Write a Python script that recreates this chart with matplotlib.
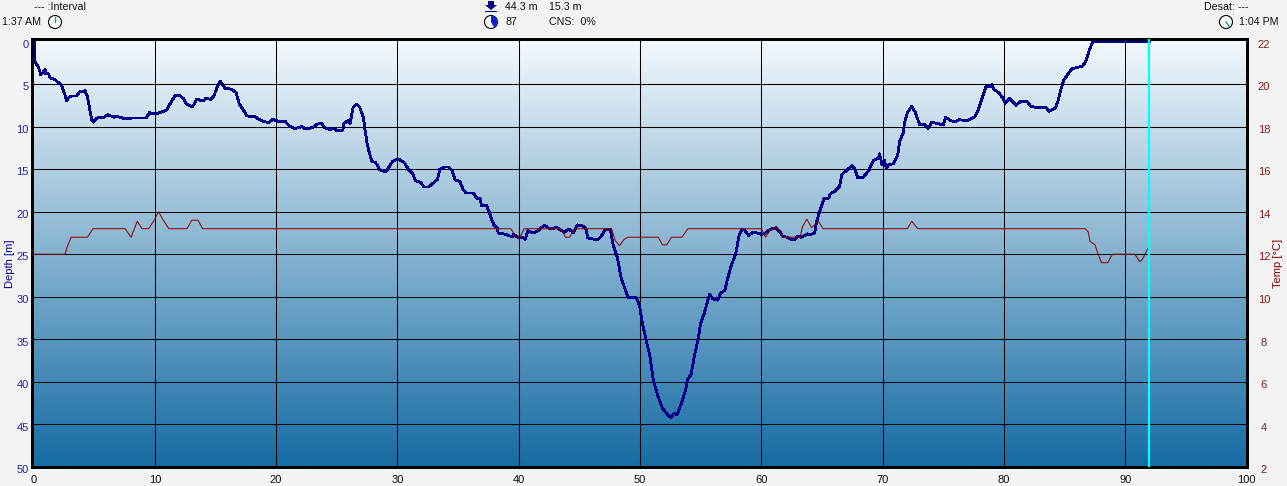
import matplotlib
matplotlib.use("Agg")
import matplotlib.pyplot as plt
import numpy as np
from matplotlib.colors import LinearSegmentedColormap
from matplotlib.patches import Circle, Wedge, Polygon, Rectangle
from matplotlib.transforms import ScaledTranslation

plt.rcParams['font.family'] = ['Liberation Sans', 'DejaVu Sans']

depth_time = [0.05, 0.12, 0.4, 0.6, 0.75, 0.95, 1.0, 1.25, 1.35, 1.77, 2.3, 2.6, 2.75, 2.9, 3.15, 3.55, 3.8, 4.25, 4.45, 4.6, 4.8, 4.95,
              5.2, 5.8, 6.15, 6.6, 6.85, 7.45, 8.2, 9.3, 9.55, 9.75, 10.15, 10.7, 11.0, 11.25, 11.65, 12.0, 12.35, 12.6, 13.1, 13.45,
              14.0, 14.2, 14.6, 14.85, 15.1, 15.4, 15.8, 16.3, 16.7, 16.95, 17.3, 17.6, 18.25, 18.8, 19.35, 19.75, 20.2, 20.75, 21.15,
              21.55, 22.1, 22.45, 23.05, 23.4, 23.75, 24.0, 24.45, 24.7, 25.05, 25.5, 25.6, 25.95, 26.1, 26.35, 26.65, 26.9, 27.2, 27.35,
              27.5, 27.65, 27.9, 28.2, 28.55, 29.05, 29.3, 29.6, 30.05, 30.55, 30.95, 31.25, 31.5, 31.9, 32.2, 32.55, 32.9, 33.3, 33.5,
              33.85, 34.2, 34.5, 34.75, 35.15, 35.4, 35.65, 36.25, 36.6, 36.8, 36.95, 37.35, 37.55, 37.7, 37.95, 38.25, 38.3, 38.9, 39.2,
              39.5, 39.6, 39.9, 40.3, 40.55, 40.75, 41.15, 41.55, 42.1, 42.65, 43.1, 43.75, 44.15, 44.5, 44.85, 45.25, 45.55, 45.7, 46.5,
              46.8, 47.15, 47.55, 47.75, 48.15, 48.45, 49.0, 49.65, 49.95, 50.2, 50.5, 50.8, 51.1, 51.45, 51.85, 52.25, 52.55, 52.8, 53.05,
              53.45, 53.75, 53.95, 54.2, 54.5, 54.8, 55.0, 55.3, 55.6, 55.75, 56.0, 56.4, 56.65, 57.0, 57.2, 57.5, 57.9, 58.15, 58.4, 58.65,
              58.95, 59.35, 60.0, 60.25, 60.7, 61.2, 61.55, 61.75, 62.1, 62.5, 62.75, 63.0, 63.3, 63.8, 64.05, 64.4, 64.55, 64.8, 65.0, 65.15,
              65.55, 65.7, 66.1, 66.45, 66.65, 67.05, 67.5, 67.75, 67.95, 68.4, 68.85, 69.25, 69.65, 69.75, 69.95, 70.15, 70.3, 70.5, 70.9,
              71.25, 71.4, 71.7, 71.8, 72.05, 72.4, 72.7, 73.05, 73.5, 73.75, 74.05, 75.0, 75.2, 75.6, 75.95, 76.3, 77.0, 77.65, 77.95, 78.2,
              78.55, 78.75, 79.0, 79.2, 79.6, 79.9, 80.15, 80.45, 81.0, 81.4, 81.9, 82.2, 82.75, 83.45, 83.7, 84.25, 84.5, 84.65, 84.95, 85.2,
              85.6, 86.5, 86.8, 87.05, 87.35, 92.0]
depth_m = [0, 2.4, 3.0, 3.9, 3.7, 3.3, 3.8, 3.8, 4.25, 4.5, 5.1, 6.3, 7.0, 6.6, 6.4, 6.4, 5.9, 5.8, 6.5, 7.7, 9.2, 9.5,
           9.0, 8.9, 8.6, 8.9, 8.8, 9.05, 9.0, 9.0, 8.35, 8.45, 8.5, 8.2, 8.05, 7.35, 6.4, 6.3, 6.7, 7.35, 7.7, 6.8,
           7.0, 6.7, 6.8, 6.5, 5.5, 4.7, 5.5, 5.6, 6.0, 7.3, 8.05, 8.75, 8.85, 9.3, 9.55, 9.15, 9.4, 9.4, 10.0,
           10.25, 10.0, 10.3, 10.1, 9.7, 9.65, 10.1, 10.4, 10.2, 10.5, 10.4, 9.6, 9.3, 9.6, 7.75, 7.35, 7.75, 9.0, 10.6,
           11.95, 12.9, 14.1, 14.2, 15.1, 15.3, 14.75, 14.1, 13.8, 14.2, 15.1, 15.55, 16.35, 16.55, 17.1, 17.1, 16.7, 16.2, 15.0,
           14.75, 14.75, 15.15, 16.25, 16.45, 17.35, 17.8, 17.8, 18.5, 18.4, 19.3, 19.3, 20.0, 20.65, 21.55, 21.95, 22.5, 22.65, 22.85,
           22.9, 22.65, 23.0, 23.0, 23.25, 22.2, 22.5, 22.3, 21.6, 22.05, 21.85, 22.4, 22.05, 22.45, 21.55, 21.65, 22.05, 23.1, 23.3,
           22.9, 22.05, 22.05, 23.7, 25.5, 27.8, 30.05, 30.05, 30.95, 33.1, 35.1, 36.85, 39.8, 41.55, 43.1, 43.8, 44.2, 43.7, 43.9,
           42.35, 41.0, 39.6, 39.2, 36.85, 34.9, 33.1, 31.95, 30.35, 29.7, 30.25, 30.4, 29.6, 29.2, 28.0, 26.45, 24.9, 22.9, 22.05, 22.2,
           22.8, 22.4, 22.65, 22.6, 22.1, 21.9, 22.4, 22.9, 23.0, 23.25, 23.3, 22.9, 23.0, 22.6, 22.7, 22.5, 21.25, 20.0, 19.2, 18.5,
           18.4, 17.9, 17.55, 17.05, 15.65, 15.1, 14.6, 15.1, 16.05, 15.95, 15.2, 14.0, 13.7, 13.2, 14.5, 14.0, 14.9, 14.5, 14.35,
           13.3, 11.75, 10.75, 9.6, 8.35, 7.6, 8.35, 9.75, 9.8, 10.2, 9.5, 9.8, 8.9, 9.3, 9.45, 9.2, 9.3, 8.8, 7.8, 6.65,
           5.2, 5.35, 5.1, 5.65, 6.05, 6.65, 7.25, 6.65, 7.5, 7.0, 7.05, 7.6, 7.8, 7.7, 8.2, 7.8, 6.85, 5.85, 4.5, 4.0,
           3.2, 2.9, 2.15, 0.95, 0, 0]

temp_time = [0, 2.6, 2.75, 3.1, 4.45, 4.9, 7.55, 7.8, 8.05, 8.25, 8.55, 8.95, 9.5, 10.0, 10.3, 10.65, 11.15, 12.65, 13.05, 13.55, 13.95,
             39.35, 39.8, 40.05, 40.45, 43.5, 43.85, 44.2, 44.6, 47.65, 47.95, 48.3, 48.7, 49.0, 51.5, 51.85, 52.2, 52.6, 53.45, 53.95,
             60.0, 60.35, 60.7, 61.1, 61.4, 61.7, 63.2, 63.4, 63.75, 64.15, 64.7, 65.1, 72.05, 72.4, 72.9, 86.7, 86.95, 87.1, 87.5, 87.8,
             88.05, 88.55, 88.95, 90.8, 91.2, 91.4, 91.9]
temp_c = [12, 12, 12.3, 12.8, 12.8, 13.2, 13.2, 13.0, 12.8, 13.1, 13.55, 13.2, 13.2, 13.65, 14.0, 13.65, 13.2, 13.2, 13.6, 13.6, 13.2,
          13.2, 12.8, 12.75, 13.2, 13.2, 12.8, 12.8, 13.2, 13.2, 12.65, 12.4, 12.7, 12.8, 12.8, 12.44, 12.44, 12.8, 12.8, 13.2,
          13.2, 12.8, 13.1, 13.25, 13.2, 12.8, 12.8, 13.3, 13.65, 13.25, 13.55, 13.2, 13.2, 13.55, 13.2, 13.2, 13.05, 12.6, 12.45, 11.95,
          11.6, 11.6, 12.0, 12.0, 11.65, 11.75, 12.3]

end_time = 92.0
time_ticks = list(range(0, 101, 10))
depth_ticks = list(range(0, 51, 5))
temp_ticks = list(range(2, 23, 2))

W, H = 1287, 486
FS = 7.7
fig = plt.figure(figsize=(W / 100, H / 100), dpi=100, facecolor='#f3f3f3')

# header strip, in pixel coords
top = fig.add_axes([0, 0, 1, 1], zorder=0)
top.set_xlim(0, W)
top.set_ylim(H, 0)
top.axis('off')

def label(x, y, s, ha='left'):
    top.text(x, y, s, fontsize=FS, color='#111111', ha=ha, va='center')

def clock(x, y, angle):
    top.add_patch(Circle((x, y), 6.5, fc='white', ec='black', lw=0.8))
    top.plot([x, x + 5 * np.sin(angle)], [y, y - 5 * np.cos(angle)], color='#00a0c8', lw=1)

label(34, 6.5, '--- :Interval')
label(2, 22, '1:37 AM')
clock(55, 22, 0)
label(505, 6.5, '44.3 m')
label(549, 6.5, '15.3 m')
label(505, 22, '87')
label(549, 22, 'CNS:  0%')
label(1204, 6.5, 'Desat: ---')
label(1239, 22, '1:04 PM')
clock(1226, 22, 2.5)

# down arrow and dive time icons
top.add_patch(Polygon([[488, 1], [494, 1], [494, 5], [497, 5], [491, 10], [485, 5], [488, 5]], fc='#000080', ec='none'))
top.add_patch(Rectangle((485, 11), 12, 1.5, fc='#000080', ec='none'))
top.add_patch(Circle((491, 22), 6.5, fc='white', ec='black', lw=0.8))
top.add_patch(Wedge((491, 22), 6, -90, 60, fc='#0020e0', ec='none'))

ax = fig.add_axes([32.3 / W, 1 - 467 / H, 1214.2 / W, 427.5 / H], zorder=1)
cmap = LinearSegmentedColormap.from_list('bg', ['#f4f9fd', '#166ca4'])
ax.imshow(np.linspace(0, 1, 256).reshape(-1, 1), cmap=cmap, aspect='auto', extent=(-0.1, 100, 50, -0.23), zorder=0)
ax.set_xlim(-0.1, 100)
ax.set_ylim(50, -0.23)
ax.set_xticks(time_ticks)
ax.set_yticks(depth_ticks)
ax.grid(True, color='black', lw=0.75)
ax.set_axisbelow(True)
for g in [ax.xaxis.get_gridlines()[0], ax.xaxis.get_gridlines()[-1], ax.yaxis.get_gridlines()[0], ax.yaxis.get_gridlines()[-1]]:
    g.set_visible(False)
ax.tick_params(axis='x', length=0, pad=6, labelsize=FS + 0.3, labelcolor='#111111')
ax.tick_params(axis='y', length=0, pad=2.7, labelsize=FS + 0.3, labelcolor='#2222aa')
ax.set_ylabel('Depth [m]', fontsize=FS + 0.3, color='#000090')
ax.yaxis.set_label_coords(-0.0144, 0.4765)
ax.plot(depth_time, depth_m, color='#00008b', lw=1.3, antialiased=False, zorder=3)

ax2 = ax.twinx()
ax2.set_ylim(2, 22.092)
ax2.set_yticks(temp_ticks)
ax2.tick_params(axis='y', length=0, pad=12.5, labelsize=FS + 0.3, labelcolor='#8b1a1a')
ax2.set_ylabel('Temp [°C]', fontsize=FS + 0.3, color='#800000', rotation=90)
ax2.yaxis.set_label_coords(1.0218, 0.4765)
ax2.plot(temp_time, temp_c, color='#8b0000', lw=0.72, zorder=3)
ax2.axvline(end_time, color='#00ffff', lw=1.6, zorder=4)

# the y tick labels sit a little below their grid lines
down = ScaledTranslation(0, -2.2 / 100, fig.dpi_scale_trans)
for t in ax.get_yticklabels():
    t.set_transform(t.get_transform() + down)
for t in ax2.get_yticklabels():
    t.set_horizontalalignment('center')
    t.set_transform(t.get_transform() + down)

for a in [ax, ax2]:
    for s in a.spines.values():
        s.set_linewidth(1.9)
        s.set_color('black')

fig.savefig('out.png', dpi=100, facecolor=fig.get_facecolor())
